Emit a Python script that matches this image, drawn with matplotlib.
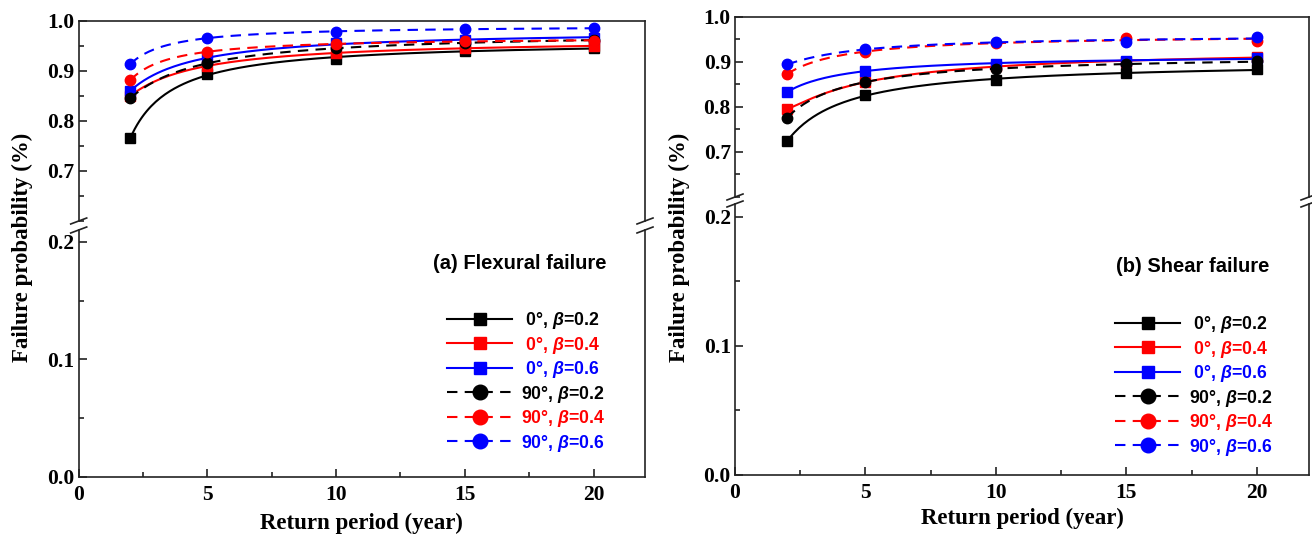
import numpy as np
import matplotlib
matplotlib.use('Agg')
import matplotlib.pyplot as plt
from matplotlib.ticker import MultipleLocator

plt.rcParams['mathtext.fontset'] = 'custom'
plt.rcParams['mathtext.it'] = 'Liberation Sans:italic:bold'
plt.rcParams['mathtext.rm'] = 'Liberation Sans:bold'

# return periods (year)
years = [2, 5, 10, 15, 20]

labels = [' 0°, $\\beta$=0.2', ' 0°, $\\beta$=0.4', ' 0°, $\\beta$=0.6',
          '90°, $\\beta$=0.2', '90°, $\\beta$=0.4', '90°, $\\beta$=0.6']
colors = ['black', 'red', 'blue', 'black', 'red', 'blue']

# (a) flexural failure probability
flex_0_b02 = [0.765, 0.893, 0.923, 0.940, 0.946]
flex_0_b04 = [0.850, 0.910, 0.935, 0.945, 0.950]
flex_0_b06 = [0.860, 0.925, 0.955, 0.962, 0.966]
flex_90_b02 = [0.845, 0.915, 0.945, 0.955, 0.962]
flex_90_b04 = [0.881, 0.938, 0.953, 0.960, 0.960]
flex_90_b06 = [0.913, 0.966, 0.977, 0.983, 0.986]

# (b) shear failure probability
shear_0_b02 = [0.724, 0.826, 0.859, 0.876, 0.883]
shear_0_b04 = [0.795, 0.855, 0.890, 0.900, 0.911]
shear_0_b06 = [0.833, 0.880, 0.896, 0.902, 0.908]
shear_90_b02 = [0.776, 0.856, 0.883, 0.894, 0.902]
shear_90_b04 = [0.873, 0.922, 0.941, 0.953, 0.947]
shear_90_b06 = [0.894, 0.928, 0.944, 0.943, 0.956]

flex = [flex_0_b02, flex_0_b04, flex_0_b06, flex_90_b02, flex_90_b04, flex_90_b06]
shear = [shear_0_b02, shear_0_b04, shear_0_b06, shear_90_b02, shear_90_b04, shear_90_b06]

W, H = 1312, 538
fig = plt.figure(figsize=(W/100, H/100), dpi=100)

def px(x0, y_top, x1, y_bot):
    return [x0/W, 1-y_bot/H, (x1-x0)/W, (y_bot-y_top)/H]

tickfont = dict(family='Liberation Serif', weight='bold', size=15.5)
spc = '#222222'

def panel(xl, xr, up_top, up_bot, lo_top, lo_bot, lo_max, data, title, title_xy, leg_xy, ylab_x, xlab_y):
    ax_up = fig.add_axes(px(xl, up_top, xr, up_bot))
    ax_lo = fig.add_axes(px(xl, lo_top, xr, lo_bot))
    xs = np.array(years, dtype=float)
    xfit = np.linspace(2, 20, 200)
    for i, vals in enumerate(data):
        ls = '-' if i < 3 else (0, (5, 3.5))
        mk = 's' if i < 3 else 'o'
        ms = 6.5 if i < 3 else 7.5
        # smooth fitted trend curve through the points
        coef = np.polyfit(1/xs, np.array(vals), 2)
        yfit = np.polyval(coef, 1/xfit)
        for ax in (ax_up, ax_lo):
            ax.plot(xfit, yfit, color=colors[i], lw=1.5, ls=ls)
            ax.plot(years, vals, color=colors[i], lw=0, marker=mk, ms=ms)
        ax_lo.plot([], [], color=colors[i], lw=1.5, ls=ls, marker=mk, ms=ms, label=labels[i])

    ax_up.set_ylim(0.6, 1.0)
    ax_lo.set_ylim(0, lo_max)
    for ax in (ax_up, ax_lo):
        ax.set_xlim(0, 22)
        ax.xaxis.set_major_locator(MultipleLocator(5))
        ax.xaxis.set_minor_locator(MultipleLocator(2.5))
        ax.tick_params(which='both', direction='in', top=False, right=False, width=1.2, color=spc)
        ax.tick_params(which='major', length=6)
        ax.tick_params(which='minor', length=3.5)
        ax.tick_params(axis='y', pad=3)
        ax.tick_params(axis='x', pad=6)
        for s in ax.spines.values():
            s.set_linewidth(1.2)
            s.set_color(spc)
    ax_up.set_yticks([0.7, 0.8, 0.9, 1.0])
    ax_up.set_yticklabels(['0.7', '0.8', '0.9', '1.0'], **tickfont)
    ax_up.yaxis.set_minor_locator(MultipleLocator(0.05))
    ax_lo.set_yticks([0.0, 0.1, 0.2])
    ax_lo.set_yticklabels(['0.0', '0.1', '0.2'], **tickfont)
    ax_lo.yaxis.set_minor_locator(MultipleLocator(0.05))
    ax_lo.set_xticks([0, 5, 10, 15, 20])
    ax_lo.set_xticklabels(['0', '5', '10', '15', '20'], **tickfont)
    ax_up.spines['bottom'].set_visible(False)
    ax_lo.spines['top'].set_visible(False)
    ax_up.tick_params(axis='x', which='both', bottom=False, labelbottom=False)

    # break marks: one short slash at each cut end of left and right spines
    kw = dict(transform=fig.transFigure, color=spc, lw=1.2)
    for xx in (xl, xr):
        for yy in (up_bot, lo_top):
            fig.add_artist(plt.Line2D([(xx - 8)/W, (xx + 8)/W],
                                      [1 - (yy + 3)/H, 1 - (yy - 3)/H], **kw))

    fig.text((xl + xr)/2/W, 1 - xlab_y/H, 'Return period (year)', ha='center', va='center',
             family='Liberation Serif', weight='bold', size=16.5)
    fig.text(ylab_x/W, 1 - 247/H, 'Failure probability (%)', rotation=90, ha='center', va='center',
             family='Liberation Serif', weight='bold', size=16.5)
    fig.text(title_xy[0]/W, 1 - title_xy[1]/H, title, ha='left', va='center',
             family='Liberation Sans', weight='bold', size=14.5)
    ax_lo.legend(loc='upper left', bbox_to_anchor=(leg_xy[0]/W, 1 - leg_xy[1]/H),
                 bbox_transform=fig.transFigure, frameon=False,
                 handlelength=3.7, handletextpad=0.5, labelspacing=0.2,
                 borderpad=0, borderaxespad=0, markerscale=1.4, labelcolor='linecolor',
                 prop=dict(family='Liberation Sans', weight='bold', size=12.7))
    return ax_up, ax_lo

panel(78.7, 645, 20.7, 221, 230, 477, 0.21, flex, '(a) Flexural failure',
      (433, 263), (447, 310), 22, 523)
panel(735, 1309, 16.7, 197, 204, 475, 0.21, shear, '(b) Shear failure',
      (1116, 267), (1115, 314), 679, 518)

fig.savefig('out.png', dpi=100)
